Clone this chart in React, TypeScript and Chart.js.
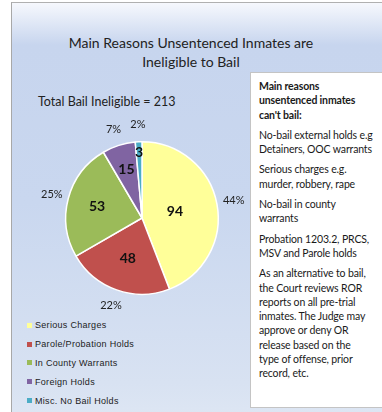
import React, { useEffect, useRef } from "react";
import { Chart, registerables } from "chart.js";

Chart.register(...registerables);

const categories = [
  "Serious Charges",
  "Parole/Probation Holds",
  "In County Warrants",
  "Foreign Holds",
  "Misc. No Bail Holds",
];
const values = [94, 48, 53, 15, 3];
const percentLabels = ["44%", "22%", "25%", "7%", "2%"];
const colors = ["#FFFF99", "#C0504D", "#9BBB59", "#8064A2", "#4BACC6"];
const titleLines = ["Main Reasons Unsentenced Inmates are", "Ineligible to Bail"];
const totalText = "Total Bail Ineligible = 213";
const boxHeading = ["Main reasons", "unsentenced inmates", "can't bail:"];
const boxParagraphs = [
  ["No-bail external holds e.g", "Detainers, OOC warrants"],
  ["Serious charges e.g.", "murder, robbery, rape"],
  ["No-bail  in county", "warrants"],
  ["Probation  1203.2, PRCS,", "MSV and Parole holds"],
  [
    "As an alternative to bail,",
    "the Court reviews ROR",
    "reports on all pre-trial",
    "inmates. The Judge may",
    "approve or deny OR",
    "release  based on the",
    "type of offense, prior",
    "record, etc.",
  ],
];

// style constants
const valueLabelRadius = [0.44, 0.56, 0.61, 0.67, 0.86];
const FONT = "Lato, 'Open Sans', sans-serif";

const labelPlugin = {
  id: "sliceLabels",
  afterDatasetsDraw(chart: any) {
    const ctx = chart.ctx;
    const meta = chart.getDatasetMeta(0);
    ctx.save();
    ctx.textAlign = "center";
    ctx.textBaseline = "middle";
    meta.data.forEach((arc: any, i: number) => {
      const p = arc.getProps(["x", "y", "startAngle", "endAngle", "outerRadius"], true);
      const mid = (p.startAngle + p.endAngle) / 2;
      const rIn = p.outerRadius * valueLabelRadius[i];
      ctx.fillStyle = "#111";
      ctx.font = "bold 14px " + FONT;
      ctx.fillText(String(values[i]), p.x + Math.cos(mid) * rIn, p.y + Math.sin(mid) * rIn);
      const rOut = p.outerRadius + 17;
      ctx.font = "11px " + FONT;
      ctx.fillStyle = "#222";
      ctx.fillText(percentLabels[i], p.x + Math.cos(mid) * rOut, p.y + Math.sin(mid) * rOut);
    });
    ctx.restore();
  },
};

export default function App() {
  const ref = useRef<HTMLCanvasElement | null>(null);
  useEffect(() => {
    if (!ref.current) return;
    const chart = new Chart(ref.current, {
      type: "pie",
      data: {
        labels: categories,
        datasets: [
          {
            data: values,
            backgroundColor: colors,
            borderColor: "#ffffff",
            borderWidth: 1.5,
          },
        ],
      },
      options: {
        animation: false,
        responsive: false,
        maintainAspectRatio: false,
        layout: { padding: { left: 65, right: 163, top: 141, bottom: 117 } },
        plugins: {
          legend: { display: false },
          tooltip: { enabled: false },
          title: { display: false },
        },
      },
      plugins: [labelPlugin],
    });
    return () => chart.destroy();
  }, []);

  const lineStyle: React.CSSProperties = { height: 14.3, lineHeight: "14.3px", whiteSpace: "nowrap" };

  return (
    <div
      style={{
        position: "fixed",
        left: 0,
        top: 0,
        width: 382,
        height: 412,
        background: "#ffffff",
        overflow: "hidden",
        fontFamily: FONT,
      }}
    >
      <div
        style={{
          position: "absolute",
          left: 11,
          top: 2,
          width: 400,
          height: 430,
          borderLeft: "1.5px solid #a8a8a8",
          borderTop: "1.5px solid #b0b0b0",
          background:
            "linear-gradient(to bottom, #f6f8fd 0px, #c7d5ee 42px, #c9d7ef 200px, #d8e2f2 380px, #e0e8f4 430px)",
        }}
      />
      <div
        style={{
          position: "absolute",
          left: 0,
          width: 382,
          top: 33,
          textAlign: "center",
          fontSize: 14,
          color: "#222",
          lineHeight: "19px",
        }}
      >
        <div>{titleLines[0]}</div>
        <div>{titleLines[1]}</div>
      </div>
      <div style={{ position: "absolute", left: 38, top: 94, fontSize: 12.5, color: "#222" }}>{totalText}</div>
      <div
        style={{
          position: "absolute",
          left: 250,
          top: 72,
          width: 140,
          height: 336,
          background: "#ffffff",
          border: "1px solid #c4c4c4",
          boxSizing: "border-box",
          padding: "6px 0 0 8px",
          fontSize: 10.5,
          letterSpacing: -0.15,
          color: "#1a1a1a",
        }}
      >
        <div style={{ fontWeight: "bold", marginBottom: 6 }}>
          {boxHeading.map((t, i) => (
            <div key={i} style={lineStyle}>
              {t}
            </div>
          ))}
        </div>
        {boxParagraphs.map((p, pi) => (
          <div key={pi} style={{ marginBottom: 6 }}>
            {p.map((t, i) => (
              <div key={i} style={lineStyle}>
                {t}
              </div>
            ))}
          </div>
        ))}
      </div>
      <div style={{ position: "absolute", left: 27, top: 316 }}>
        {categories.map((c, i) => (
          <div key={i} style={{ display: "flex", alignItems: "center", height: 18.8 }}>
            <span style={{ width: 5, height: 5, background: colors[i], marginRight: 3, display: "inline-block" }} />
            <span style={{ fontSize: 9, letterSpacing: 0.3, color: "#222", fontFamily: "'Liberation Sans', sans-serif" }}>
              {c}
            </span>
          </div>
        ))}
      </div>
      <canvas ref={ref} width={382} height={412} style={{ position: "absolute", left: 0, top: 0 }} />
    </div>
  );
}
